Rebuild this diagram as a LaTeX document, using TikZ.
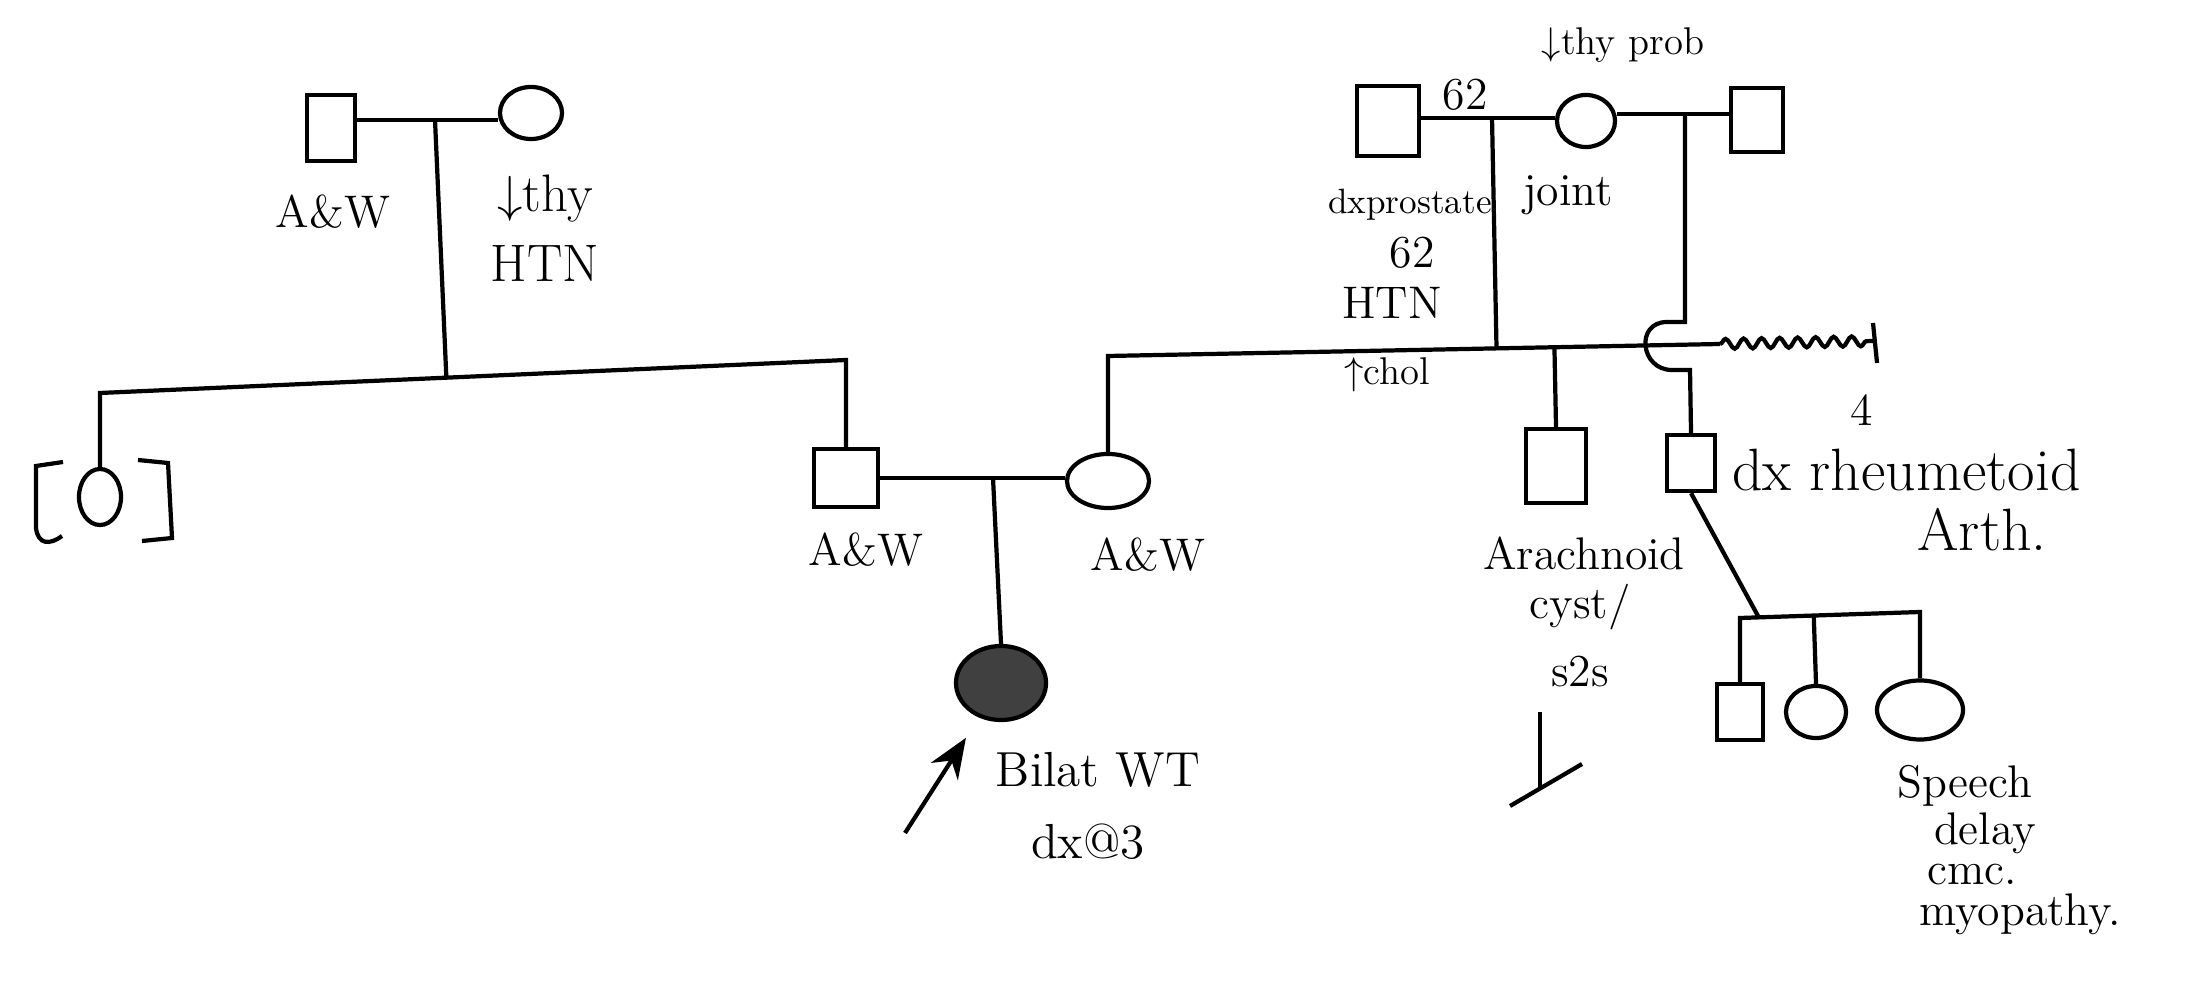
\documentclass[tikz,border=0pt]{standalone}
\usetikzlibrary{arrows.meta,
                calc,
                positioning,
                shapes.geometric,
                decorations.pathmorphing}

\begin{document}
\begin{tikzpicture}[
        x=0.01cm, y=-0.01cm,
        line width=1.2pt,
        male/.style={rectangle, draw=black, line width=1.2pt, minimum width=5mm, minimum height=6mm, inner sep=0pt},
        female/.style={ellipse, draw=black, line width=1.2pt, minimum width=6.2mm, minimum height=5.2mm, inner sep=0pt},
        affected/.style={fill=black!75},
        note/.style={font=\fontsize{13}{15}\selectfont, inner sep=0pt, align=center},
        bignote/.style={font=\fontsize{16}{18}\selectfont, inner sep=0pt, align=center},
        smallnote/.style={font=\fontsize{11}{13}\selectfont, inner sep=0pt, align=center},
        pointer/.style={arrows=-{Stealth[length=4mm, width=3.2mm]}, line width=1.2pt},
        wavy/.style={decorate, decoration={snake, amplitude=0.5mm, segment length=1.8mm}}
        ]

        \useasboundingbox (0,0) rectangle (2189,983);

        \node (gfp)       [male, minimum width=4.8mm, minimum height=6.6mm]     at (331,128)  {};
        \node (gmp)       [female]                                             at (531,113)  {};
        \node (aunt)      [female, minimum width=4.2mm, minimum height=5.6mm]   at (100,497)  {};
        \node (dad)       [male, minimum width=6.4mm, minimum height=5.8mm]     at (846,478)  {};
        \node (mom)       [female, minimum width=8.2mm, minimum height=5.4mm]   at (1108,481) {};
        \node (proband)   [female, affected, minimum width=9mm, minimum height=7.4mm] at (1001,683) {};

        \node (gfm)       [male, minimum width=6.2mm, minimum height=7mm]       at (1388,121) {};
        \node (gmm)       [female, minimum width=5.8mm]                        at (1586,121) {};
        \node (gfs)       [male, minimum width=5.2mm, minimum height=6.4mm]     at (1757,120) {};
        \node (uncle)     [male, minimum width=6mm, minimum height=7.4mm]       at (1556,466) {};
        \node (halfuncle) [male, minimum width=4.8mm, minimum height=5.6mm]     at (1691,463) {};
        \node (cousin1)   [male, minimum width=4.6mm, minimum height=5.6mm]     at (1740,712) {};
        \node (cousin2)   [female, minimum width=6mm]                          at (1816,712) {};
        \node (cousin3)   [female, minimum width=8.6mm, minimum height=5.9mm]   at (1920,710) {};

        \coordinate (m1)  at (435,120);
        \coordinate (s1l) at (100,393);
        \coordinate (s1r) at (846,360);
        \draw (gfp.east |- m1) -- (gmp.west |- m1);
        \draw (m1) -- ($(s1l)!(m1)!(s1r)$);
        \draw (aunt.north) -- (s1l) -- (s1r) -- (dad.north);

        \draw (63,462) -- (36,466) -- (36,528) .. controls (38,545) and (50,545) .. (62,536);
        \draw (138,460) -- (168,463) -- (172,538) -- (142,541);

        \coordinate (m2) at (993,478);
        \draw (dad.east |- m2) -- (mom.west |- m2);
        \draw (m2) -- (proband.north);
        \coordinate (arrtail) at (905,833);
        \draw [pointer, shorten >=2.4mm] (arrtail) -- (proband);

        \coordinate (m3)  at (1492,118);
        \coordinate (m4)  at (1685,114);
        \coordinate (s2l) at (1108,356);
        \coordinate (s2r) at (1720,344);
        \coordinate (wv)  at (1875,341);
        \draw (gfm.east |- m3) -- (gmm.west |- m3);
        \draw (gmm.east |- m4) -- (gfs.west |- m4);
        \draw (mom.north) -- (s2l) -- (s2r);
        \draw (m3) -- ($(s2l)!(m3)!(s2r)$);
        \draw (uncle.north) -- ($(s2l)!(uncle.north)!(s2r)$);
        \draw [wavy] (s2r) -- (wv);
        \draw ($(wv)+(-2,-18)$) -- ($(wv)+(2,22)$);

        \coordinate (hopt) at (1685,322);
        \coordinate (hopb) at (1690,370);
        \draw (m4) -- (hopt) -- ++(-18,0) .. controls +(-32,0) and +(-32,0) .. ($(hopb)+(-18,0)$) -- (hopb) -- (halfuncle.north);

        \coordinate (ystem) at (1540,712);
        \coordinate (yfoot) at (1540,788);
        \coordinate (ybarl) at (1510,806);
        \coordinate (ybarr) at (1582,764);
        \draw (ystem) -- (yfoot);
        \draw (ybarl) -- (ybarr);

        \coordinate (k0)  at (1758,616);
        \coordinate (s3l) at (1740,618);
        \coordinate (s3r) at (1920,612);
        \draw (halfuncle.south) -- (k0);
        \draw (cousin1.north) -- (s3l) -- (s3r) -- (cousin3.north);
        \draw (cousin2.north) -- ($(s3l)!(cousin2.north)!(s3r)$);

        \node (lblgfp)    [note]             at (333,212)  {A\&W};
        \node (lblgmp)    [bignote, font=\fontsize{15}{20}\selectfont] at (545,228) {$\downarrow$thy\\HTN};
        \node (lbldad)    [note]             at (866,550)  {A\&W};
        \node (lblmom)    [note]             at (1148,555) {A\&W};
        \node (lblbilat)  [note, font=\fontsize{14}{16}\selectfont] at (1098,770) {Bilat WT};
        \node (lbldx)     [note, font=\fontsize{14}{16}\selectfont] at (1088,842) {dx@3};

        \node (lblthy)    [smallnote]        at (1623,45)  {$\downarrow$thy prob};
        \node (lblage)    [note]             at (1465,95)  {62};
        \node (lbljoint)  [note]             at (1568,195) {joint};
        \node (lblpros)   [font=\fontsize{10}{12}\selectfont, inner sep=0pt] at (1410,205) {dxprostate};
        \node (lblpros62) [note]             at (1412,253) {62};
        \node (lblhtn)    [note]             at (1392,303) {HTN};
        \node (lblchol)   [smallnote]        at (1387,375) {$\uparrow$chol};
        \node (lblcount)  [note]             at (1862,410) {4};

        \node (lblarach)  [note]             at (1584,553) {Arachnoid};
        \node (lblcyst)   [note]             at (1580,607) {cyst/};
        \node (lbls2s)    [note]             at (1580,672) {s2s};

        \node (lblra)     [bignote, font=\fontsize{17}{19}\selectfont, anchor=west] at (1730,470) {dx rheumetoid};
        \node (lblarth)   [bignote, font=\fontsize{17}{19}\selectfont] at (1982,530) {Arth.};

        \node (lblspeech) [note]             at (1965,786) {Speech};
        \node (lbldelay)  [note]             at (1985,833) {delay};
        \node (lblcmc)    [note]             at (1972,875) {cmc.};
        \node (lblmyo)    [note]             at (2020,914) {myopathy.};

    \end{tikzpicture}
\end{document}
